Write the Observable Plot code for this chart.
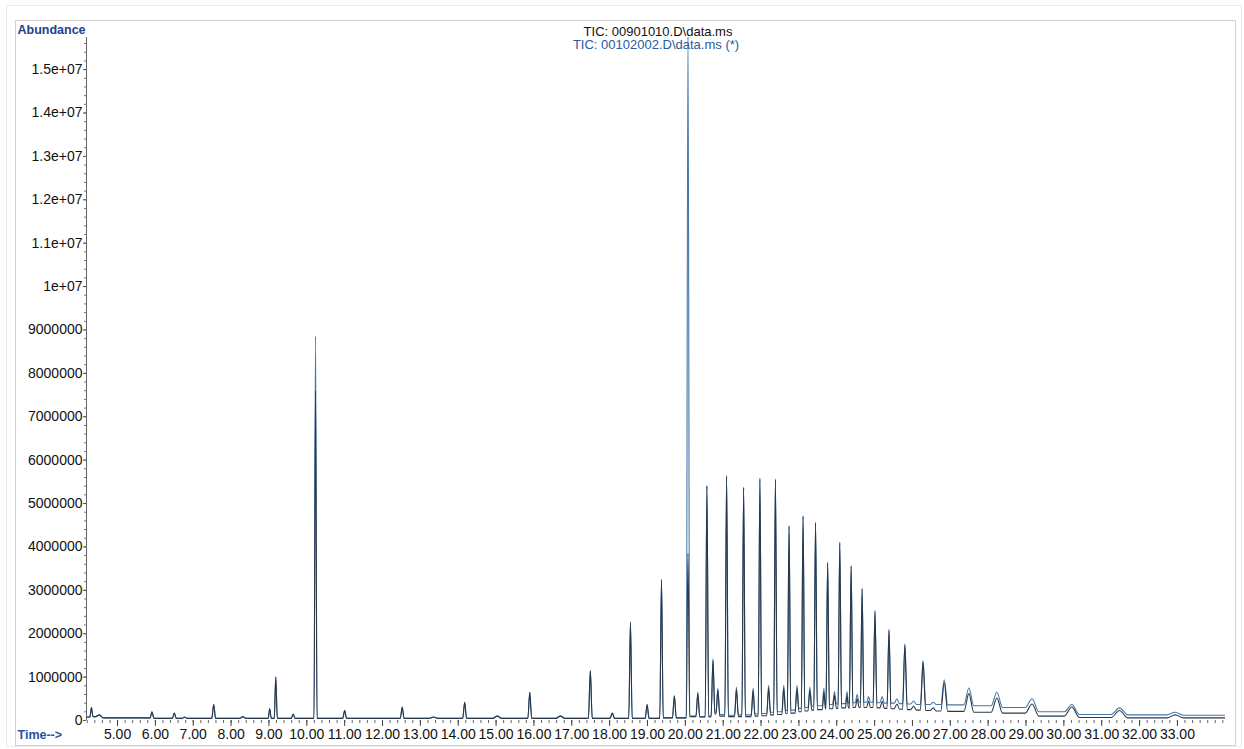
<!DOCTYPE html>
<html><head><meta charset="utf-8">
<script src="https://cdn.jsdelivr.net/npm/d3@7"></script>
<script src="https://cdn.jsdelivr.net/npm/@observablehq/plot@0.6"></script>
<style>
html,body{margin:0;padding:0;background:#fff;}
#wrap{position:relative;width:1244px;height:749px;overflow:hidden;}
#chart{position:absolute;left:0;top:0;}
.frame{position:absolute;pointer-events:none;z-index:2;box-sizing:border-box;}
</style></head><body>
<div id="wrap">
<div id="chart"></div>
<div class="frame" style="left:6px;top:5px;width:1236px;height:742px;border:1px solid #ececec;"></div>
<div class="frame" style="left:15px;top:20px;width:1221px;height:726px;border:1px solid #d2d2d2;"></div>
</div>
<script>
// ---- axes ----
const xDomain = [4.18, 34.27];          // minutes
const yDomain = [0, 15740000];          // abundance
const xTicks = [5,6,7,8,9,10,11,12,13,14,15,16,17,18,19,20,21,22,23,24,25,26,27,28,29,30,31,32,33];
const xTickLabels = ["5.00","6.00","7.00","8.00","9.00","10.00","11.00","12.00","13.00","14.00","15.00","16.00","17.00","18.00","19.00","20.00","21.00","22.00","23.00","24.00","25.00","26.00","27.00","28.00","29.00","30.00","31.00","32.00","33.00"];
const yTicks = [0,1000000,2000000,3000000,4000000,5000000,6000000,7000000,8000000,9000000,10000000,11000000,12000000,13000000,14000000,15000000];
const yTickLabels = ["0","1000000","2000000","3000000","4000000","5000000","6000000","7000000","8000000","9000000","1e+07","1.1e+07","1.2e+07","1.3e+07","1.4e+07","1.5e+07"];

// ---- titles ----
const titleA = "TIC: 00901010.D\\data.ms";
const titleB = "TIC: 00102002.D\\data.ms (*)";
const yLabel = "Abundance";
const xLabel = "Time-->";

// ---- peaks (retention time, min) ----
const peakTime = [4.31,4.52,5.91,6.50,6.77,7.54,8.31,9.02,9.18,9.64,
  10.23,11.00,12.52,13.35,14.17,15.03,15.89,16.70,17.49,18.07,
  18.55,18.99,19.37,19.71,20.07,20.33,20.57,20.73,20.86,21.09,
  21.35,21.54,21.79,21.97,22.20,22.38,22.60,22.74,22.95,23.11,
  23.29,23.44,23.66,23.76,23.94,24.08,24.27,24.38,24.54,24.67,
  24.84,25.01,25.20,25.38,25.59,25.80,26.03,26.28,26.55,26.84,
  27.49,28.23,29.16,30.21,31.47,32.94];
// half width of each peak at its foot (min)
const halfWidth = [0.04,0.10,0.05,0.05,0.06,0.05,0.07,0.04,0.04,0.05,
  0.04,0.05,0.05,0.12,0.05,0.12,0.05,0.12,0.05,0.06,
  0.045,0.05,0.045,0.05,0.045,0.05,0.045,0.05,0.05,0.045,
  0.05,0.045,0.05,0.045,0.05,0.045,0.05,0.045,0.05,0.045,
  0.05,0.045,0.04,0.045,0.05,0.045,0.04,0.045,0.05,0.045,
  0.05,0.05,0.06,0.05,0.07,0.06,0.08,0.07,0.08,0.09,
  0.13,0.15,0.18,0.20,0.22,0.22];

// ---- series "00102002" (blue, *) : apex and level after each peak, in millions ----
const blueApex = [0.30,0.13,0.20,0.17,0.08,0.37,0.09,0.27,1.00,0.15,
  8.85,0.23,0.31,0.08,0.42,0.10,0.65,0.10,1.15,0.17,
  2.27,0.37,3.25,0.57,15.90,0.65,5.42,1.42,0.74,5.65,
  0.77,5.38,0.74,5.59,0.81,5.57,0.81,4.49,0.81,4.72,
  0.77,4.57,0.74,3.65,0.67,4.11,0.67,3.57,0.60,3.05,
  0.55,2.54,0.55,2.11,0.50,1.77,0.45,1.38,0.42,0.94,
  0.75,0.65,0.50,0.37,0.29,0.19];
const blueValley = [0.09,0.06,0.05,0.05,0.05,0.05,0.05,0.05,0.05,0.05,
  0.05,0.05,0.05,0.05,0.05,0.05,0.05,0.05,0.05,0.05,
  0.05,0.05,0.06,0.06,0.10,0.09,0.10,0.19,0.14,0.12,
  0.13,0.13,0.15,0.16,0.19,0.20,0.23,0.24,0.28,0.30,
  0.33,0.34,0.36,0.37,0.38,0.39,0.40,0.41,0.42,0.42,
  0.42,0.41,0.40,0.40,0.39,0.38,0.37,0.37,0.37,0.36,
  0.34,0.30,0.20,0.14,0.13,0.12];
const blueStart = 0.08;

// ---- series "00901010" (dark) ----
const darkApex = [0.30,0.13,0.20,0.17,0.08,0.37,0.09,0.27,1.00,0.15,
  7.60,0.23,0.31,0.08,0.42,0.10,0.65,0.10,1.15,0.17,
  2.27,0.37,3.25,0.57,3.85,0.62,5.40,1.38,0.70,5.62,
  0.72,5.36,0.69,5.56,0.75,5.54,0.74,4.47,0.73,4.70,
  0.69,4.55,0.65,3.63,0.58,4.09,0.57,3.55,0.50,3.03,
  0.45,2.51,0.44,2.08,0.38,1.74,0.33,1.34,0.29,0.88,
  0.62,0.52,0.38,0.31,0.23,0.13];
const darkValley = [0.09,0.06,0.05,0.05,0.05,0.05,0.05,0.05,0.05,0.05,
  0.05,0.05,0.05,0.05,0.05,0.05,0.05,0.05,0.05,0.05,
  0.05,0.05,0.06,0.06,0.09,0.08,0.08,0.15,0.10,0.09,
  0.09,0.09,0.10,0.11,0.13,0.14,0.16,0.17,0.20,0.22,
  0.24,0.25,0.27,0.27,0.28,0.29,0.29,0.30,0.30,0.30,
  0.30,0.29,0.28,0.27,0.26,0.25,0.24,0.23,0.22,0.21,
  0.19,0.17,0.10,0.07,0.06,0.06];
const darkStart = 0.08;
const traceEnd = 34.32;

// Build the polyline vertex table for one trace from the peak table
function buildTrace(apex, valley, start) {
  const pts = [{t: xDomain[0], v: start}];
  peakTime.forEach((t, i) => {
    const hw = halfWidth[i];
    pts.push({t: t - hw, v: i === 0 ? start : valley[i - 1]});
    pts.push({t: t, v: apex[i]});
    pts.push({t: t + hw, v: valley[i]});
  });
  pts.push({t: traceEnd, v: valley[valley.length - 1]});
  pts.sort((a, b) => a.t - b.t);
  return pts.map(p => ({t: p.t, v: p.v * 1e6}));
}
const blueTrace = buildTrace(blueApex, blueValley, blueStart);
const darkTrace = buildTrace(darkApex, darkValley, darkStart);

const blueColor = "#4577a8";
const darkColor = "#2b3846";
const font = '"Liberation Sans", Arial, Helvetica, sans-serif';

const xMinor = d3.range(21, 172).map(i => i / 5);
const yMinor = d3.range(0, 79).map(i => i * 200000);

const chart = Plot.plot({
  width: 1244, height: 749,
  marginLeft: 86, marginRight: 19, marginTop: 37, marginBottom: 29,
  style: {fontFamily: font, fontSize: "14px", color: "#111", background: "transparent", overflow: "visible"},
  x: {domain: xDomain},
  y: {domain: yDomain},
  marks: [
    Plot.axisX({ticks: xMinor, tickSize: 3, tickFormat: () => "", stroke: "#666", label: null}),
    Plot.axisX({ticks: xTicks, tickSize: 6, tickPadding: 3, stroke: "#444", label: null,
      tickFormat: d => xTickLabels[xTicks.indexOf(d)], fontSize: 14, fill: "#111"}),
    Plot.axisY({ticks: yMinor, tickSize: 2, tickFormat: () => "", stroke: "#777", label: null}),
    Plot.axisY({ticks: yTicks, tickSize: 3, tickPadding: 1, stroke: "#555", label: null,
      tickFormat: d => yTickLabels[yTicks.indexOf(d)], fontSize: 14, fill: "#111"}),
    Plot.ruleX([xDomain[0]], {stroke: "#666", strokeWidth: 1}),
    Plot.line(blueTrace, {x: "t", y: "v", stroke: blueColor, strokeWidth: 1.1, curve: "monotone-x", clip: true}),
    Plot.line(darkTrace, {x: "t", y: "v", stroke: darkColor, strokeWidth: 1.1, curve: "monotone-x", clip: true}),
    Plot.text([yLabel], {text: d => d, frameAnchor: "top-left", dx: -69, dy: -4, textAnchor: "start", lineAnchor: "bottom",
      fill: "#22418f", fontWeight: "bold", fontSize: 12.5}),
    Plot.text([xLabel], {text: d => d, frameAnchor: "bottom-left", dx: -69, dy: 18, textAnchor: "start", lineAnchor: "bottom",
      fill: "#2a55a0", fontWeight: "bold", fontSize: 12.5}),
    Plot.text([titleA], {text: d => d, frameAnchor: "top", dx: 2, dy: -2, lineAnchor: "bottom", fill: "#111", fontSize: 13}),
    Plot.text([titleB], {text: d => d, frameAnchor: "top", dx: 0, dy: 11, lineAnchor: "bottom", fill: "#2a5aa0", fontSize: 13})
  ]
});
document.getElementById("chart").appendChild(chart);
</script>
</body></html>
